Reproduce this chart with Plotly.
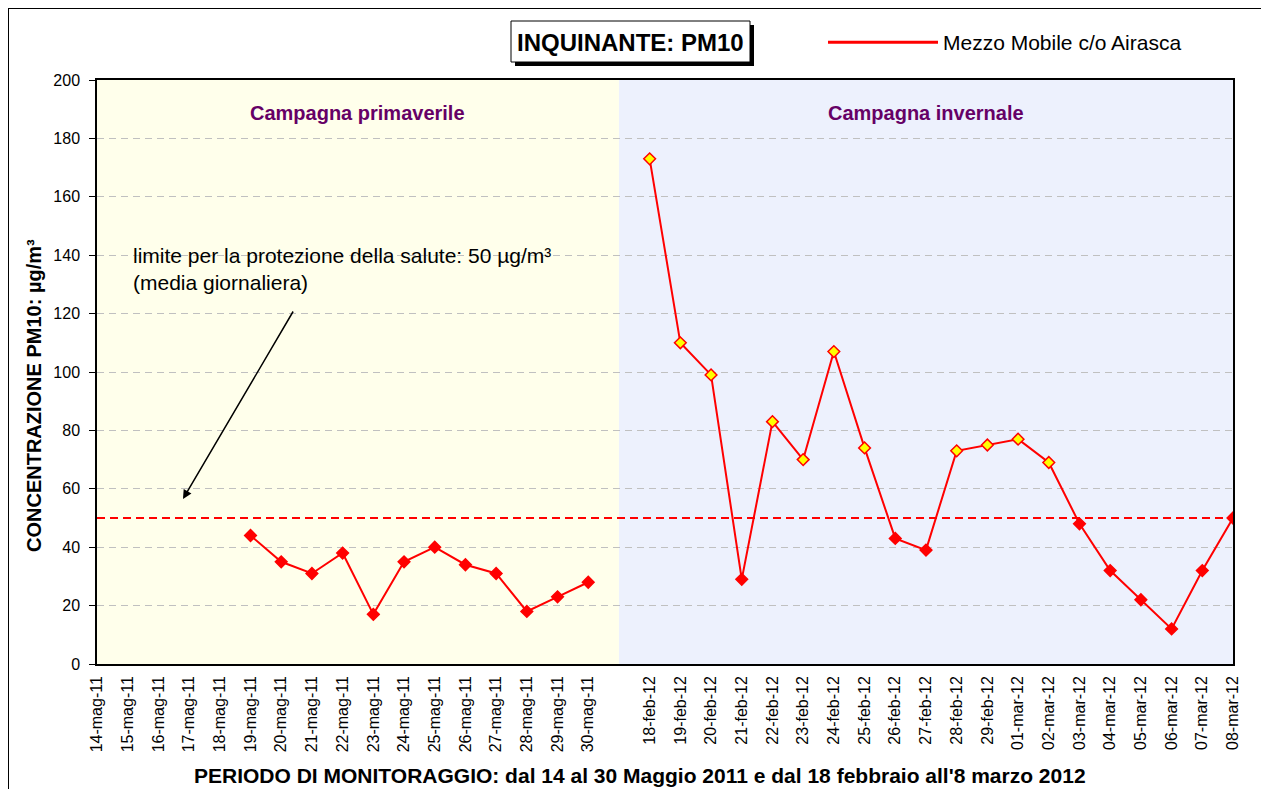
import plotly.graph_objects as go

# ---------------- data ----------------
may_labels = ["14-mag-11", "15-mag-11", "16-mag-11", "17-mag-11", "18-mag-11",
              "19-mag-11", "20-mag-11", "21-mag-11", "22-mag-11", "23-mag-11",
              "24-mag-11", "25-mag-11", "26-mag-11", "27-mag-11", "28-mag-11",
              "29-mag-11", "30-mag-11"]
may_values = [None, None, None, None, None,
              44, 35, 31, 38, 17, 35, 40, 34, 31, 18, 23, 28]

gap_label = [" "]
gap_value = [None]

winter_labels = ["18-feb-12", "19-feb-12", "20-feb-12", "21-feb-12", "22-feb-12",
                 "23-feb-12", "24-feb-12", "25-feb-12", "26-feb-12", "27-feb-12",
                 "28-feb-12", "29-feb-12", "01-mar-12", "02-mar-12", "03-mar-12",
                 "04-mar-12", "05-mar-12", "06-mar-12", "07-mar-12", "08-mar-12"]
winter_values = [173, 110, 99, 29, 83, 70, 107, 74, 43, 39,
                 73, 75, 77, 69, 48, 32, 22, 12, 32, 50]

limit_value = 50
series_name = "Mezzo Mobile c/o Airasca"
y_ticks = [0, 20, 40, 60, 80, 100, 120, 140, 160, 180, 200]

categories = may_labels + gap_label + winter_labels
values = may_values + gap_value + winter_values

# ---------------- layout geometry ----------------
W, H = 1269, 789
OFF = 8  # page margin around the figure
# plot area in screen pixels
SL, SR, ST, SB = 97, 1233, 80, 664
L, R, T, B = SL - OFF, SR - OFF, ST - OFF, SB - OFF
PW, PH = R - L, B - T


def px(xs):
    return (xs - OFF - L) / PW


def py(ys):
    return (B - (ys - OFF)) / PH


FONT = "Liberation Sans, Arial, sans-serif"
RED = "#FF0000"

marker_fill = ["#FFFF00" if (v is not None and v > limit_value) else RED for v in values]

fig = go.Figure()

fig.add_trace(go.Scatter(
    x=categories, y=values, mode="lines+markers", name=series_name,
    connectgaps=False, showlegend=False,
    line=dict(color=RED, width=2),
    marker=dict(symbol="diamond", size=9, color=marker_fill,
                line=dict(color=RED, width=1.5)),
))
# legend entry (line only)
fig.add_trace(go.Scatter(
    x=[None], y=[None], mode="lines", name=series_name,
    line=dict(color=RED, width=3), showlegend=True,
))

n_may = len(may_labels)
n_all = len(categories)

# campaign backgrounds
fig.add_shape(type="rect", xref="x", yref="paper", x0=0, x1=n_may,
              y0=0, y1=1, fillcolor="#FFFFEB", line_width=0, layer="below")
fig.add_shape(type="rect", xref="x", yref="paper", x0=n_may, x1=n_all - 1,
              y0=0, y1=1, fillcolor="#EDF1FD", line_width=0, layer="below")

# limit line
fig.add_hline(y=limit_value, line=dict(color=RED, width=2, dash="8px,5px"), layer="above")

# outer frame
fig.add_shape(type="rect", xref="paper", yref="paper",
              x0=px(8), x1=px(1266), y0=py(8), y1=py(800),
              line=dict(color="black", width=2), fillcolor="rgba(0,0,0,0)")

# title box with shadow
fig.add_shape(type="rect", xref="paper", yref="paper",
              x0=px(515), x1=px(754), y0=py(25), y1=py(66),
              line_width=0, fillcolor="black")
fig.add_shape(type="rect", xref="paper", yref="paper",
              x0=px(511), x1=px(750), y0=py(21), y1=py(62),
              line=dict(color="black", width=1), fillcolor="white")
fig.add_annotation(xref="paper", yref="paper", x=px(630.5), y=py(42),
                   text="<b>INQUINANTE: PM10</b>", showarrow=False,
                   font=dict(family=FONT, size=24, color="black"),
                   xanchor="center", yanchor="middle")

# campaign labels
fig.add_annotation(xref="x", yref="paper", x=n_may / 2, y=py(113),
                   text="<b>Campagna primaverile</b>", showarrow=False,
                   font=dict(family=FONT, size=20, color="#660066"),
                   xanchor="center", yanchor="middle")
fig.add_annotation(xref="x", yref="paper", x=(n_may + n_all - 1) / 2, y=py(113),
                   text="<b>Campagna invernale</b>", showarrow=False,
                   font=dict(family=FONT, size=20, color="#660066"),
                   xanchor="center", yanchor="middle")

# limit annotation text + arrow
fig.add_annotation(xref="paper", yref="paper", x=px(131), y=py(242),
                   text="limite per la protezione della salute: 50 µg/m³<br>(media giornaliera)",
                   showarrow=False, align="left",
                   font=dict(family=FONT, size=21, color="black"),
                   xanchor="left", yanchor="top")
fig.add_annotation(xref="paper", yref="paper", x=px(183), y=py(499),
                   ax=294 - 183, ay=310 - 499, axref="pixel", ayref="pixel",
                   text="", showarrow=True, arrowhead=2, arrowsize=1.2,
                   arrowwidth=1.5, arrowcolor="black")

# axis titles
fig.add_annotation(xref="paper", yref="paper", x=px(639.5), y=py(775),
                   text="<b>PERIODO DI MONITORAGGIO: dal 14 al 30 Maggio 2011 e dal 18 febbraio all'8 marzo 2012</b>",
                   showarrow=False, font=dict(family=FONT, size=21, color="black"),
                   xanchor="center", yanchor="middle")
fig.add_annotation(xref="paper", yref="paper", x=px(34), y=py(396),
                   text="<b>CONCENTRAZIONE PM10: µg/m³</b>", textangle=-90,
                   showarrow=False, font=dict(family=FONT, size=20, color="black"),
                   xanchor="center", yanchor="middle")

fig.update_layout(
    width=W, height=H,
    margin=dict(l=L, r=W - R, t=T, b=H - B, pad=0),
    paper_bgcolor="white", plot_bgcolor="white",
    font=dict(family=FONT, color="black"),
    showlegend=True,
    legend=dict(x=px(823), y=py(22), xanchor="left", yanchor="top",
                bgcolor="rgba(0,0,0,0)", font=dict(family=FONT, size=21, color="black"),
                itemwidth=110),
    xaxis=dict(
        type="category", categoryorder="array", categoryarray=categories,
        range=[0, n_all - 1], tickangle=-90, tickfont=dict(size=16, family=FONT),
        showgrid=False, showline=True, linecolor="black", linewidth=1.5, mirror=True,
        ticks="", zeroline=False, fixedrange=True, ticklabelstandoff=4,
    ),
    yaxis=dict(
        range=[0, 200], tickvals=y_ticks, tickfont=dict(size=16, family=FONT),
        showgrid=True, gridcolor="#C0C0C0", griddash="7px,5px", gridwidth=1,
        showline=True, linecolor="black", linewidth=1.5, mirror=True,
        ticks="outside", ticklen=6, tickcolor="black", zeroline=False,
        ticklabelstandoff=6,
    ),
)

fig.write_html("out.html")
